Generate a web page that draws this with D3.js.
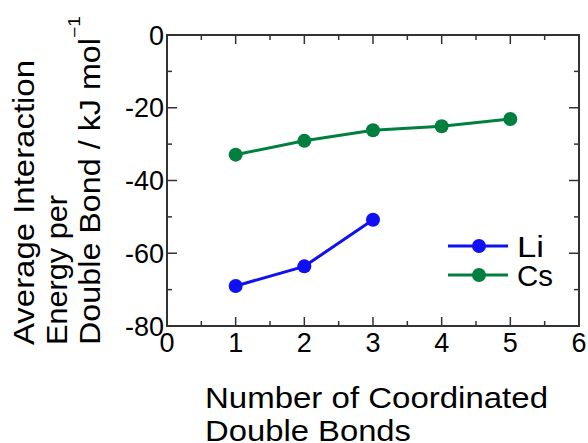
<!DOCTYPE html>
<html>
<head>
<meta charset="utf-8">
<script src="https://d3js.org/d3.v7.min.js"></script>
<style>
  body { margin: 0; background: #fff; }
  text { font-family: "Liberation Sans", Arial, sans-serif; fill: #000; }
</style>
</head>
<body>
<div id="chart"></div>
<script>
// data
var xValues = [1, 2, 3, 4, 5];
var liValues = [-69, -63.6, -50.8];
var csValues = [-32.9, -29.1, -26.2, -25.1, -23.1];
var xTicks = [0, 1, 2, 3, 4, 5, 6];
var yTicks = [0, -20, -40, -60, -80];

var width = 588, height = 443;
var plotLeft = 167, plotRight = 579, plotTop = 35, plotBottom = 326;

var svg = d3.select("#chart")
  .append("svg")
  .attr("width", width)
  .attr("height", height);

var x = d3.scaleLinear().domain([0, 6]).range([plotLeft, plotRight]);
var y = d3.scaleLinear().domain([-80, 0]).range([plotBottom, plotTop]);

// frame
svg.append("rect")
  .attr("x", plotLeft).attr("y", plotTop)
  .attr("width", plotRight - plotLeft).attr("height", plotBottom - plotTop)
  .attr("fill", "none").attr("stroke", "#333").attr("stroke-width", 2);

// ticks, all pointing inward
var minorX = d3.range(0.5, 6, 1);
var minorY = d3.range(-70, 0, 20);
var ticks = svg.append("g").attr("stroke", "#333").attr("stroke-width", 1.5);

xTicks.forEach(function (t) {
  ticks.append("line").attr("x1", x(t)).attr("x2", x(t)).attr("y1", plotBottom).attr("y2", plotBottom - 9);
  ticks.append("line").attr("x1", x(t)).attr("x2", x(t)).attr("y1", plotTop).attr("y2", plotTop + 9);
});
minorX.forEach(function (t) {
  ticks.append("line").attr("x1", x(t)).attr("x2", x(t)).attr("y1", plotBottom).attr("y2", plotBottom - 5);
  ticks.append("line").attr("x1", x(t)).attr("x2", x(t)).attr("y1", plotTop).attr("y2", plotTop + 5);
});
yTicks.forEach(function (t) {
  ticks.append("line").attr("x1", plotLeft).attr("x2", plotLeft + 10).attr("y1", y(t)).attr("y2", y(t));
  ticks.append("line").attr("x1", plotRight).attr("x2", plotRight - 10).attr("y1", y(t)).attr("y2", y(t));
});
minorY.forEach(function (t) {
  ticks.append("line").attr("x1", plotLeft).attr("x2", plotLeft + 5).attr("y1", y(t)).attr("y2", y(t));
  ticks.append("line").attr("x1", plotRight).attr("x2", plotRight - 5).attr("y1", y(t)).attr("y2", y(t));
});

// tick labels
svg.selectAll("text.xtick")
  .data(xTicks)
  .enter()
  .append("text")
  .attr("class", "xtick")
  .attr("x", function (d) { return x(d); })
  .attr("y", plotBottom + 26)
  .attr("text-anchor", "middle")
  .attr("font-size", 27)
  .text(function (d) { return d; });

svg.selectAll("text.ytick")
  .data(yTicks)
  .enter()
  .append("text")
  .attr("class", "ytick")
  .attr("x", plotLeft - 3)
  .attr("y", function (d) { return y(d) + 9.5; })
  .attr("text-anchor", "end")
  .attr("font-size", 27)
  .text(function (d) { return d; });

// series
var line = d3.line()
  .x(function (d, i) { return x(xValues[i]); })
  .y(function (d) { return y(d); });

var series = [
  {name: "Li", values: liValues, color: "#1010f5"},
  {name: "Cs", values: csValues, color: "#007f3f"}
];

series.forEach(function (s) {
  svg.append("path")
    .datum(s.values)
    .attr("d", line)
    .attr("fill", "none")
    .attr("stroke", s.color)
    .attr("stroke-width", 3);

  svg.selectAll("circle." + s.name)
    .data(s.values)
    .enter()
    .append("circle")
    .attr("class", s.name)
    .attr("cx", function (d, i) { return x(xValues[i]); })
    .attr("cy", function (d) { return y(d); })
    .attr("r", 7)
    .attr("fill", s.color);
});

// legend
series.forEach(function (s, i) {
  var ly = 246 + i * 29;
  svg.append("line")
    .attr("x1", 448).attr("x2", 508).attr("y1", ly).attr("y2", ly)
    .attr("stroke", s.color).attr("stroke-width", 3);
  svg.append("circle")
    .attr("cx", 479).attr("cy", ly).attr("r", 7).attr("fill", s.color);
  svg.append("text")
    .attr("x", 517).attr("y", ly + 11)
    .attr("font-size", 30)
    .attr("textLength", s.name == "Li" ? 27 : 36)
    .attr("lengthAdjust", "spacingAndGlyphs")
    .text(s.name);
});

// x axis title
svg.append("text").attr("font-size", 30)
  .attr("x", 205).attr("y", 408)
  .attr("textLength", 343).attr("lengthAdjust", "spacingAndGlyphs")
  .text("Number of Coordinated");
svg.append("text").attr("font-size", 30)
  .attr("x", 205).attr("y", 441)
  .attr("textLength", 206).attr("lengthAdjust", "spacingAndGlyphs")
  .text("Double Bonds");

// y axis title
function yTitle(str, base, len) {
  return svg.append("text")
    .attr("transform", "translate(" + base + ",345) rotate(-90)")
    .attr("font-size", 30)
    .attr("x", 0).attr("y", 0)
    .attr("textLength", len).attr("lengthAdjust", "spacingAndGlyphs")
    .text(str);
}
yTitle("Average Interaction", 34, 285);
yTitle("Energy per", 67, 150);
yTitle("Double Bond / kJ mol", 100, 307);
svg.append("text")
  .attr("transform", "translate(80,38) rotate(-90)")
  .attr("font-size", 16)
  .attr("textLength", 22).attr("lengthAdjust", "spacingAndGlyphs")
  .text("\u22121");
</script>
</body>
</html>
